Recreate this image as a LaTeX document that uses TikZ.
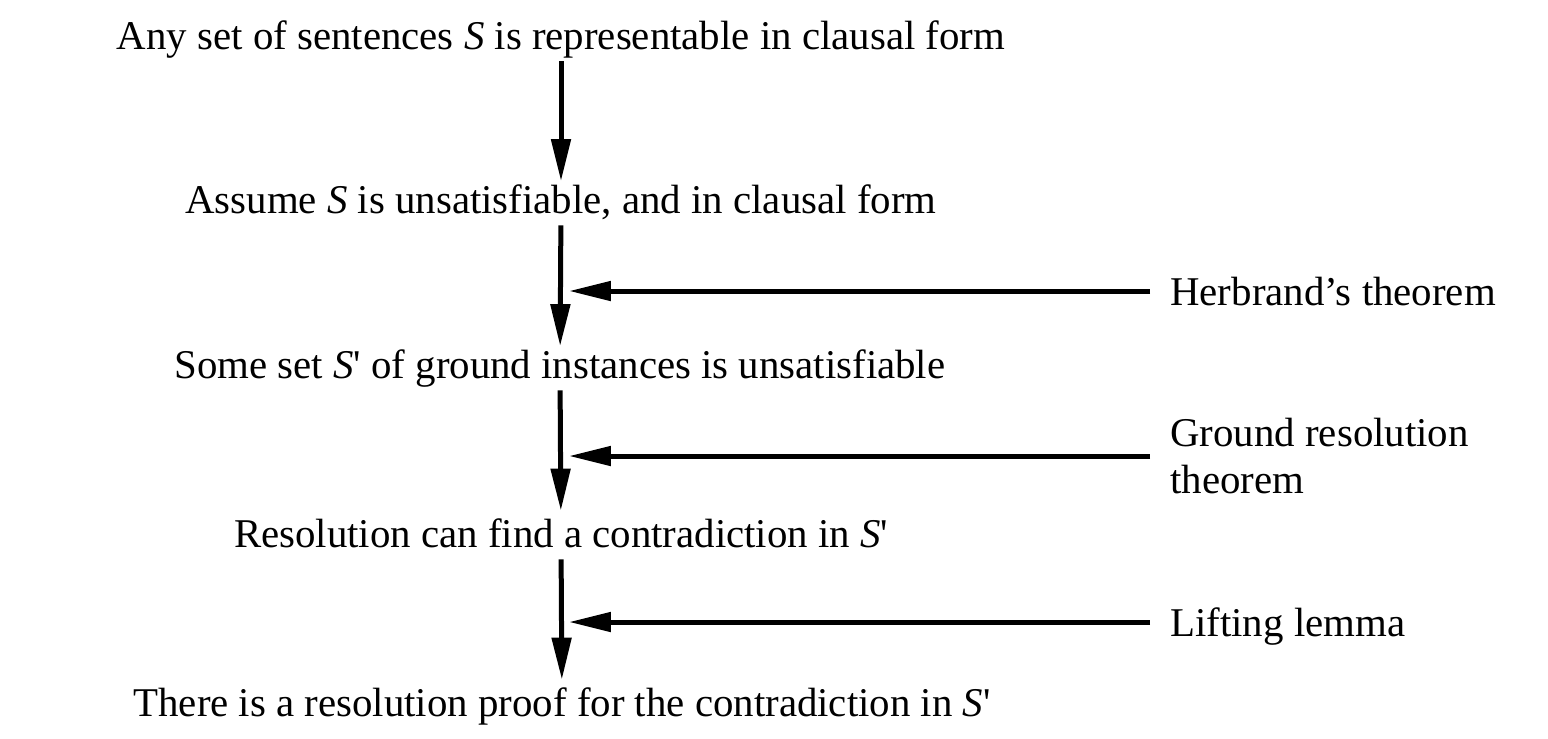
\documentclass[tikz,border=0pt]{standalone}
\usepackage{fontspec}
\setmainfont{Liberation Serif}
\usetikzlibrary{arrows.meta}
\tikzset{
    claim/.style = {
    	anchor=base,
    	inner sep=0pt,
    	text height=0.56cm,
    	text depth=0.18cm,
    	font=\fontsize{23.25}{27.5}\selectfont
    },
    reason/.style = {
    	anchor=west,
    	inner sep=0pt,
    	align=left,
    	font=\fontsize{23.25}{26.6}\selectfont
    },
    implies/.style = {
    	line width=0.1cm,
    	-{Triangle[length=0.84cm,width=0.38cm]},
    	shorten <=0.06cm,
    	shorten >=0.07cm
    },
    feed/.style = {
    	line width=0.1cm,
    	-{Triangle[length=0.84cm,width=0.38cm]},
    	shorten <=0.4cm,
    	shorten >=0.14cm
    }
}
\newcommand{\Sp}{\textit{S}\textquotesingle}

\begin{document}
\begin{tikzpicture}[x=0.02cm,y=-0.02cm]

	\useasboundingbox (0,0) rectangle (1548,738);

	% Eje de la demostracion
	\coordinate (spine) at (562,0);

	% Afirmaciones
	\node[claim] (s1) at (561,49) {Any set of sentences \textit{S} is representable in clausal form};
	\node[claim] (s2) at (561,213) {Assume \textit{S} is unsatisfiable, and in clausal form};
	\node[claim] (s3) at (560,378) {Some set \Sp{} of ground instances is unsatisfiable};
	\node[claim] (s4) at (561,547) {Resolution can find a contradiction in \Sp};
	\node[claim] (s5) at (562,716) {There is a resolution proof for the contradiction in \Sp};

	% Justificaciones
	\node[reason, text height=0.56cm, text depth=0pt] (herbrand) at (1170,291) {Herbrand’s theorem};
	\node[reason] (ground) at (1170,456) {Ground resolution\\theorem};
	\node[reason, text height=0.56cm, text depth=0pt] (lifting) at (1170,622) {Lifting lemma};

	% Implicaciones
	\draw[implies] (s1) -- (s2);
	\draw[implies] (s2) -- (s3);
	\draw[implies, shorten >=0.16cm] (s3) -- (s4);
	\draw[implies, shorten >=0.16cm] (s4) -- (s5);

	\draw[feed] (herbrand.west) -- (herbrand.west -| spine);
	\draw[feed] (ground.west) -- (ground.west -| spine);
	\draw[feed] (lifting.west) -- (lifting.west -| spine);

\end{tikzpicture}
\end{document}
